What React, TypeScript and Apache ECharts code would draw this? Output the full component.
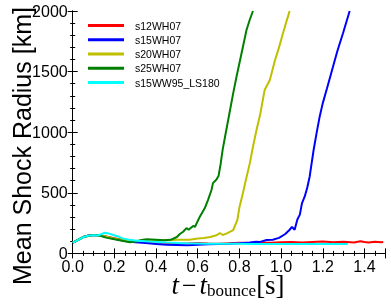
import React, { useEffect, useRef } from "react";
import * as echarts from "echarts";

const seriesNames = ["s12WH07", "s15WH07", "s20WH07", "s25WH07", "s15WW95_LS180"];
const seriesColors = ["#ff0000", "#0000ff", "#bfbf00", "#008000", "#00ffff"];

const s12WH07: [number, number][] = [
  [0, 88], [0.02, 105], [0.05, 135], [0.08, 150], [0.1, 152], [0.13, 148], [0.16, 140], [0.2, 125],
  [0.25, 108], [0.3, 98], [0.35, 92], [0.4, 88], [0.45, 85], [0.5, 83], [0.55, 82], [0.6, 85],
  [0.65, 82], [0.7, 80], [0.75, 84], [0.8, 88], [0.85, 86], [0.9, 90], [0.95, 88], [1.0, 92],
  [1.05, 95], [1.1, 90], [1.15, 94], [1.2, 98], [1.25, 92], [1.3, 96], [1.35, 90], [1.38, 100],
  [1.4, 94], [1.42, 90], [1.45, 96], [1.48, 92], [1.49, 94],
];

const s15WH07: [number, number][] = [
  [0, 88], [0.02, 105], [0.05, 135], [0.08, 150], [0.1, 152], [0.13, 148], [0.16, 138], [0.2, 120],
  [0.25, 103], [0.3, 92], [0.35, 85], [0.4, 78], [0.45, 72], [0.5, 70], [0.55, 68], [0.6, 72],
  [0.65, 75], [0.7, 78], [0.75, 80], [0.8, 84], [0.85, 90], [0.88, 97], [0.9, 95], [0.93, 110],
  [0.96, 112], [0.99, 128], [1.02, 160], [1.04, 193], [1.052, 218], [1.065, 195], [1.078, 280],
  [1.09, 320], [1.1, 413], [1.113, 468], [1.125, 540], [1.137, 633], [1.156, 853], [1.17, 990],
  [1.185, 1128], [1.2, 1240], [1.22, 1360], [1.249, 1540], [1.27, 1670], [1.297, 1816],
  [1.315, 1920], [1.329, 2000],
];

const s20WH07: [number, number][] = [
  [0, 88], [0.05, 135], [0.1, 152], [0.13, 148], [0.16, 140], [0.2, 122], [0.25, 108], [0.3, 100],
  [0.35, 105], [0.4, 110], [0.45, 108], [0.5, 112], [0.56, 112], [0.6, 122], [0.63, 128],
  [0.66, 135], [0.69, 150], [0.706, 168], [0.72, 152], [0.74, 165], [0.77, 193], [0.79, 275],
  [0.8, 380], [0.817, 498], [0.83, 600], [0.85, 745], [0.865, 880], [0.882, 1018], [0.9, 1150],
  [0.921, 1348], [0.946, 1430], [0.97, 1590], [0.99, 1700], [1.009, 1816], [1.025, 1910],
  [1.041, 2000],
];

const s25WH07: [number, number][] = [
  [0, 88], [0.05, 135], [0.1, 152], [0.13, 148], [0.16, 130], [0.2, 116], [0.25, 100], [0.275, 92],
  [0.3, 98], [0.33, 110], [0.355, 116], [0.4, 112], [0.44, 108], [0.47, 112], [0.5, 135],
  [0.514, 160], [0.53, 179], [0.546, 209], [0.556, 195], [0.578, 226], [0.587, 220], [0.61, 303],
  [0.634, 374], [0.649, 440], [0.666, 523], [0.673, 580], [0.69, 610], [0.70, 640], [0.71, 740],
  [0.72, 860], [0.735, 1000], [0.755, 1183], [0.77, 1320], [0.786, 1458], [0.81, 1650],
  [0.834, 1843], [0.85, 1930], [0.865, 2000],
];

const s15WW95_LS180: [number, number][] = [
  [0, 88], [0.02, 105], [0.05, 135], [0.08, 148], [0.1, 150], [0.12, 148], [0.14, 160], [0.155, 171],
  [0.17, 165], [0.195, 152], [0.22, 138], [0.24, 124], [0.27, 112], [0.31, 105], [0.35, 100],
  [0.4, 95], [0.45, 90], [0.51, 85], [0.55, 83], [0.6, 82], [0.65, 80], [0.7, 80], [0.75, 79],
  [0.8, 79], [0.85, 78], [0.9, 78], [0.95, 78], [1.0, 77], [1.05, 77], [1.1, 78], [1.15, 77],
  [1.2, 78], [1.25, 77], [1.3, 78], [1.32, 78],
];

const seriesData = [s12WH07, s15WH07, s20WH07, s25WH07, s15WW95_LS180];

export default function App() {
  const ref = useRef<HTMLDivElement>(null);
  useEffect(() => {
    if (!ref.current) return;
    const chart = echarts.init(ref.current, null, { renderer: "svg" });
    const font = "Liberation Sans, Arial, sans-serif";
    const serif = "Liberation Serif";
    const axisCommon = {
      axisLine: { lineStyle: { color: "#000", width: 1 } },
      axisTick: { inside: true, length: 5, lineStyle: { color: "#000" } },
      splitLine: { show: false },
    };
    chart.setOption({
      animation: false,
      grid: { left: 72.7, right: 5.7, top: 11, bottom: 52.6, containLabel: false },
      legend: {
        orient: "vertical",
        left: 83,
        top: 13.5,
        icon: "rect",
        itemWidth: 36,
        itemHeight: 3,
        itemGap: 0.25,
        data: seriesNames,
        textStyle: { fontFamily: font, fontSize: 10.5, color: "#000", lineHeight: 14, padding: [0, 0, 0, 6] },
      },
      xAxis: [
        {
          type: "value", min: 0, max: 1.5, interval: 0.2, position: "bottom",
          ...axisCommon,
          minorTick: { show: true, splitNumber: 4, length: 2.5, lineStyle: { color: "#000" } },
          axisLabel: { fontFamily: font, fontSize: 16, color: "#000", margin: 5, formatter: (v: number) => v.toFixed(1) },
        },
        {
          type: "value", min: 0, max: 1.5, interval: 0.2, position: "top",
          ...axisCommon,
          minorTick: { show: true, splitNumber: 4, length: 2.5, lineStyle: { color: "#000" } },
          axisLabel: { show: false },
        },
      ],
      yAxis: [
        {
          type: "value", min: 0, max: 2000, interval: 500, position: "left",
          ...axisCommon,
          minorTick: { show: true, splitNumber: 5, length: 2.5, lineStyle: { color: "#000" } },
          axisLabel: { fontFamily: font, fontSize: 16, color: "#000", margin: 5, formatter: (v: number) => String(v) },
        },
        {
          type: "value", min: 0, max: 2000, interval: 500, position: "right",
          ...axisCommon,
          minorTick: { show: true, splitNumber: 5, length: 2.5, lineStyle: { color: "#000" } },
          axisLabel: { show: false },
        },
      ],
      series: seriesNames.map((name, i) => ({
        name,
        type: "line",
        data: seriesData[i],
        xAxisIndex: 0,
        yAxisIndex: 0,
        showSymbol: false,
        symbol: "none",
        clip: true,
        lineStyle: { color: seriesColors[i], width: 2 },
        itemStyle: { color: seriesColors[i] },
        z: 2 + i,
      })),
      graphic: [
        {
          type: "text",
          x: 22,
          y: 146,
          rotation: Math.PI / 2,
          style: {
            text: "Mean Shock Radius [km]",
            fontFamily: font,
            fontSize: 25,
            fill: "#000",
            textAlign: "center",
            textVerticalAlign: "middle",
          },
        },
        {
          type: "text",
          x: 228,
          y: 285,
          style: {
            text: "{i|t} {m|−} {i|t}{s|bounce}{r|[s]}",
            fontFamily: serif,
            textAlign: "center",
            textVerticalAlign: "middle",
            fill: "#000",
            rich: {
              i: { fontFamily: serif, fontStyle: "italic", fontSize: 27, fill: "#000" },
              m: { fontFamily: serif, fontSize: 26, fill: "#000" },
              s: { fontFamily: serif, fontSize: 17, fill: "#000", padding: [10, 0, 0, 0] },
              r: { fontFamily: serif, fontSize: 27, fill: "#000" },
            },
          },
        },
      ],
    });
    return () => chart.dispose();
  }, []);
  return <div ref={ref} style={{ width: 391, height: 306, position: "fixed", left: 0, top: 0 }} />;
}
